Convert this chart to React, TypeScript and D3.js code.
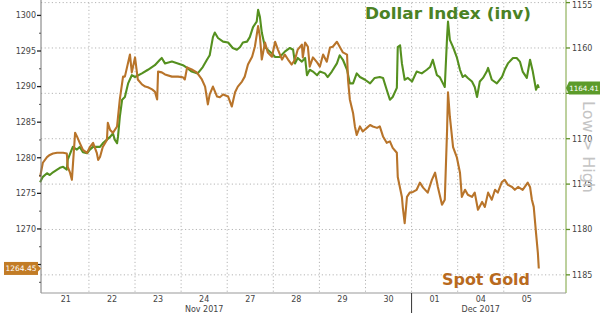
import React from "react";
import * as d3 from "d3";

// ---- data (time in trading-day slots from 21 Nov) ----
const dayLabels = ["21", "22", "23", "24", "27", "28", "29", "30", "01", "04", "05"];
const monthLabels = [
  { label: "Nov 2017", slot: 3.5 },
  { label: "Dec 2017", slot: 9.5 },
];
const monthBreaks = [8];
const goldTicks = [1265, 1270, 1275, 1280, 1285, 1290, 1295, 1300];
const dxyTicks = [1155, 1160, 1165, 1170, 1175, 1180, 1185];

const goldT = [
  -0.06, 0.0, 0.09, 0.15, 0.22, 0.31, 0.37, 0.44, 0.52, 0.54, 0.59, 0.63, 0.7, 0.74, 0.8, 0.87, 0.96,
  1.02, 1.09, 1.17, 1.2, 1.24, 1.3, 1.39, 1.41, 1.46, 1.52, 1.61, 1.67, 1.74, 1.78, 1.89, 1.93, 2.0,
  2.06, 2.15, 2.22, 2.28, 2.37, 2.43, 2.48, 2.5, 2.58, 2.65, 2.8, 2.93, 3.04, 3.08, 3.13, 3.23, 3.34,
  3.45, 3.52, 3.58, 3.62, 3.69, 3.78, 3.84, 3.91, 4.02, 4.1, 4.17, 4.23, 4.32, 4.38, 4.45, 4.54, 4.6,
  4.67, 4.71, 4.75, 4.82, 4.88, 4.97, 5.04, 5.1, 5.19, 5.25, 5.32, 5.4, 5.47, 5.53, 5.62, 5.64, 5.69,
  5.75, 5.79, 5.86, 5.95, 6.01, 6.08, 6.16, 6.23, 6.29, 6.38, 6.44, 6.51, 6.6, 6.62, 6.66, 6.73, 6.77,
  6.81, 6.88, 6.94, 7.03, 7.1, 7.16, 7.25, 7.31, 7.38, 7.46, 7.53, 7.59, 7.68, 7.7, 7.79, 7.81, 7.85,
  7.9, 7.96, 8.03, 8.11, 8.18, 8.25, 8.35, 8.44, 8.51, 8.57, 8.66, 8.72, 8.77, 8.79, 8.83, 8.9, 8.98,
  9.05, 9.09, 9.16, 9.22, 9.31, 9.37, 9.44, 9.53, 9.59, 9.66, 9.74, 9.81, 9.87, 9.96, 10.02, 10.09,
  10.18, 10.24, 10.31, 10.41, 10.52, 10.57, 10.61, 10.65, 10.7, 10.74, 10.76,
];
const goldV = [
  1277.3, 1279.3, 1280.1, 1280.4, 1280.6, 1280.7, 1280.7, 1280.7, 1280.6, 1278.7, 1277.9, 1276.9, 1283.5,
  1283.0, 1282.1, 1281.1, 1280.7, 1281.5, 1282.1, 1280.7, 1279.7, 1280.1, 1281.5, 1282.5, 1284.9, 1283.9,
  1283.5, 1284.4, 1288.2, 1291.4, 1291.4, 1294.5, 1292.0, 1294.1, 1291.0, 1290.3, 1290.0, 1289.9, 1289.6,
  1289.3, 1288.2, 1292.1, 1292.0, 1291.7, 1291.4, 1291.4, 1291.3, 1291.0, 1292.7, 1292.4, 1292.0, 1291.0,
  1290.0, 1287.5, 1288.9, 1290.0, 1288.6, 1288.5, 1288.9, 1288.6, 1287.2, 1289.2, 1290.0, 1290.7, 1291.4,
  1293.1, 1294.2, 1295.6, 1298.5, 1297.0, 1293.8, 1296.2, 1294.8, 1294.2, 1296.3, 1295.2, 1293.8, 1294.5,
  1293.8, 1293.1, 1293.8, 1295.2, 1295.9, 1294.1, 1296.2, 1295.6, 1292.8, 1294.1, 1293.4, 1292.8, 1294.5,
  1293.5, 1295.5, 1295.6, 1296.3, 1295.6, 1294.8, 1294.5, 1291.0, 1288.2, 1286.3, 1284.4, 1283.2, 1284.4,
  1283.7, 1284.2, 1284.6, 1284.4, 1284.2, 1284.4, 1283.0, 1282.1, 1282.3, 1281.4, 1280.7, 1277.3, 1274.5,
  1273.0, 1270.8, 1274.5, 1275.1, 1275.2, 1275.5, 1276.5, 1275.8, 1275.1, 1276.9, 1277.9, 1275.9, 1273.4,
  1274.1, 1283.9, 1289.2, 1285.8, 1281.5, 1280.1, 1277.9, 1274.5, 1275.5, 1274.8, 1274.5, 1275.1, 1272.7,
  1273.8, 1273.1, 1275.1, 1274.1, 1275.5, 1275.1, 1276.6, 1276.9, 1276.2, 1275.9, 1275.5, 1275.9, 1275.5,
  1276.5, 1275.9, 1274.1, 1273.1, 1269.4, 1266.6, 1264.45,
];

const dxyT = [
  -0.06, 0.0, 0.09, 0.15, 0.22, 0.31, 0.37, 0.44, 0.52, 0.54, 0.65, 0.74, 0.8, 0.87, 0.96, 1.02, 1.09,
  1.17, 1.24, 1.3, 1.39, 1.46, 1.52, 1.56, 1.61, 1.63, 1.67, 1.72, 1.78, 1.85, 1.93, 2.0, 2.15, 2.28,
  2.43, 2.54, 2.58, 2.65, 2.8, 2.93, 3.04, 3.13, 3.23, 3.36, 3.47, 3.56, 3.62, 3.69, 3.73, 3.8, 3.91,
  4.02, 4.12, 4.21, 4.28, 4.34, 4.43, 4.49, 4.56, 4.64, 4.67, 4.71, 4.75, 4.82, 4.88, 4.97, 5.04, 5.14,
  5.25, 5.36, 5.43, 5.47, 5.53, 5.62, 5.69, 5.73, 5.79, 5.86, 5.95, 6.01, 6.12, 6.18, 6.27, 6.38, 6.44,
  6.51, 6.6, 6.66, 6.73, 6.81, 6.88, 6.99, 7.1, 7.2, 7.31, 7.38, 7.46, 7.53, 7.59, 7.68, 7.7, 7.75,
  7.79, 7.85, 7.92, 8.01, 8.11, 8.22, 8.33, 8.4, 8.46, 8.55, 8.61, 8.68, 8.72, 8.77, 8.79, 8.83, 8.9,
  8.98, 9.05, 9.11, 9.16, 9.22, 9.31, 9.37, 9.42, 9.48, 9.55, 9.63, 9.66, 9.74, 9.85, 9.96, 10.02,
  10.09, 10.2, 10.28, 10.35, 10.41, 10.5, 10.57, 10.63, 10.7, 10.74, 10.76,
];
const dxyV = [
  1174.8, 1174.2, 1173.8, 1174.0, 1173.7, 1173.4, 1173.2, 1173.1, 1173.4, 1172.3, 1170.9, 1171.2, 1170.9,
  1171.5, 1171.6, 1171.2, 1170.9, 1170.9, 1170.9, 1170.5, 1170.1, 1169.8, 1169.4, 1170.1, 1170.5, 1169.8,
  1167.6, 1165.7, 1165.4, 1163.9, 1163.0, 1163.2, 1162.8, 1162.4, 1161.9, 1161.3, 1161.1, 1161.7, 1161.5,
  1161.7, 1161.9, 1162.2, 1162.6, 1162.8, 1162.1, 1161.3, 1160.8, 1158.8, 1158.3, 1158.9, 1159.3, 1159.4,
  1160.0, 1160.2, 1159.9, 1159.4, 1159.3, 1158.8, 1157.7, 1157.1, 1155.8, 1156.6, 1158.3, 1159.9, 1160.2,
  1160.6, 1161.0, 1161.0, 1160.4, 1160.0, 1160.2, 1161.7, 1161.1, 1161.5, 1161.1, 1163.0, 1162.4, 1162.6,
  1163.0, 1162.6, 1162.8, 1163.2, 1162.6, 1161.7, 1160.8, 1161.3, 1162.4, 1163.9, 1163.9, 1162.8, 1163.2,
  1163.5, 1163.9, 1163.3, 1163.2, 1163.3, 1164.6, 1165.7, 1165.4, 1164.4, 1159.9, 1159.7, 1161.7, 1163.5,
  1163.3, 1163.7, 1162.6, 1162.8, 1162.4, 1162.1, 1161.3, 1163.0, 1163.2, 1163.9, 1164.3, 1158.8, 1157.1,
  1159.1, 1159.9, 1161.0, 1162.4, 1163.2, 1163.0, 1163.3, 1163.7, 1164.3, 1165.4, 1163.7, 1163.3, 1162.6,
  1162.2, 1163.5, 1163.9, 1163.2, 1162.4, 1161.7, 1161.1, 1161.1, 1161.5, 1162.6, 1163.3, 1161.3, 1162.6,
  1164.6, 1164.1, 1164.41,
];

const GOLD = "#b8742a";
const GREEN = "#55901f";
const FONT = "DejaVu Sans, Verdana, sans-serif";

export default function App() {
  const W = 600;
  const H = 317;
  const left = 41;
  const right = 566;
  const top = 2.6;
  const bottom = 293;

  const x = d3.scaleLinear().domain([-0.04, 11.35]).range([left, right]);
  const yG = d3.scaleLinear().domain([1261, 1301.8]).range([bottom, top]);
  const yD = d3.scaleLinear().domain([1155, 1187]).range([top, bottom]);

  const goldPts = goldT.map((t, i) => [t, goldV[i]] as [number, number]);
  const dxyPts = dxyT.map((t, i) => [t, dxyV[i]] as [number, number]);
  const goldLine = d3.line<[number, number]>().x((d) => x(d[0])).y((d) => yG(d[1]))(goldPts) || "";
  const dxyLine = d3.line<[number, number]>().x((d) => x(d[0])).y((d) => yD(d[1]))(dxyPts) || "";

  const gridDays = d3.range(1, 11);
  const minorGold = d3.range(1262.5, 1301, 5);

  const lastGold = goldV[goldV.length - 1];
  const lastDxy = dxyV[dxyV.length - 1];
  const yLastD = yD(lastDxy);

  return (
    <svg width={W} height={H} style={{ position: "absolute", left: 0, top: 0, background: "#fff" }}>
      {/* horizontal grid */}
      {dxyTicks.map((v) => (
        <line key={"hg" + v} x1={left} x2={right} y1={yD(v)} y2={yD(v)} stroke="#b5b5b5" strokeWidth={1} strokeDasharray="1.2,2.4" />
      ))}
      {/* vertical grid */}
      {gridDays.map((d) => (
        <line key={"vg" + d} x1={x(d)} x2={x(d)} y1={top} y2={bottom} stroke="#b5b5b5" strokeWidth={1} strokeDasharray="1.2,2.4" />
      ))}

      {/* series */}
      <path d={dxyLine} fill="none" stroke={GREEN} strokeWidth={2.1} strokeLinejoin="round" />
      <path d={goldLine} fill="none" stroke={GOLD} strokeWidth={2.1} strokeLinejoin="round" />

      {/* left axis */}
      <line x1={left} x2={left} y1={0} y2={bottom} stroke="#777" strokeWidth={1} />
      {goldTicks.map((v) => (
        <g key={"gt" + v}>
          <line x1={left - 4} x2={left} y1={yG(v)} y2={yG(v)} stroke="#222" strokeWidth={1.3} />
          {v >= 1270 && (
            <text x={left - 5} y={yG(v)} dy="0.35em" textAnchor="end" fontSize={8} fontFamily={FONT} fill="#444">
              {v}
            </text>
          )}
        </g>
      ))}
      {minorGold.map((v) => (
        <line key={"gm" + v} x1={left - 2} x2={left} y1={yG(v)} y2={yG(v)} stroke="#555" strokeWidth={1} />
      ))}

      {/* right axis */}
      <line x1={right} x2={right} y1={0} y2={bottom} stroke="#7aa23c" strokeWidth={1} />
      {dxyTicks.map((v) => (
        <g key={"dt" + v}>
          <line x1={right} x2={right + 4} y1={yD(v)} y2={yD(v)} stroke="#5f8f27" strokeWidth={1.3} />
          {Math.abs(yD(v) - yLastD) > 9 && (
            <text x={right + 6} y={Math.max(yD(v), 5.5)} dy="0.35em" fontSize={8} fontFamily={FONT} fill="#444">
              {v}
            </text>
          )}
        </g>
      ))}

      {/* bottom axis */}
      <line x1={left} x2={right} y1={bottom} y2={bottom} stroke="#999" strokeWidth={1} />
      {dayLabels.map((l, i) => (
        <text key={"dl" + i} x={x(i + 0.5)} y={302} textAnchor="middle" fontSize={8} fontFamily={FONT} fill="#444">
          {l}
        </text>
      ))}
      {monthLabels.map((m) => (
        <text key={m.label} x={x(m.slot)} y={312} textAnchor="middle" fontSize={8} fontFamily={FONT} fill="#444">
          {m.label}
        </text>
      ))}
      {monthBreaks.map((b) => (
        <line key={"mb" + b} x1={x(b)} x2={x(b)} y1={bottom} y2={313} stroke="#333" strokeWidth={1} />
      ))}

      {/* Low > High */}
      <text
        transform={`translate(583,${147}) rotate(90)`}
        textAnchor="middle"
        fontSize={15}
        fontFamily={FONT}
        fill="#c4c4c4"
        textLength={92}
        lengthAdjust="spacingAndGlyphs"
      >
        {"Low > High"}
      </text>

      {/* last value labels */}
      <g>
        <rect x={4} y={yG(lastGold) - 6.5} width={34} height={13} fill="#c27c26" />
        <path d={`M38,${yG(lastGold) - 3} L41,${yG(lastGold)} L38,${yG(lastGold) + 3} Z`} fill="#c27c26" />
        <text x={21} y={yG(lastGold)} dy="0.35em" textAnchor="middle" fontSize={7.5} fontFamily={FONT} fill="#fff">
          {lastGold.toFixed(2)}
        </text>
      </g>
      <g>
        <path d={`M566,${yLastD} L569,${yLastD - 6.5} L600,${yLastD - 6.5} L600,${yLastD + 6.5} L569,${yLastD + 6.5} Z`} fill="#5c9b2a" />
        <text x={584} y={yLastD} dy="0.35em" textAnchor="middle" fontSize={7.2} fontFamily={FONT} fill="#fff">
          {lastDxy.toFixed(2)}
        </text>
      </g>

      {/* series titles */}
      <text x={365} y={19} fontSize={16} fontWeight="bold" fontFamily={FONT} fill="#4b8224" textLength={166} lengthAdjust="spacingAndGlyphs">
        Dollar Index (inv)
      </text>
      <text x={442} y={285} fontSize={16} fontWeight="bold" fontFamily={FONT} fill="#b86a1e" textLength={88} lengthAdjust="spacingAndGlyphs">
        Spot Gold
      </text>
    </svg>
  );
}
